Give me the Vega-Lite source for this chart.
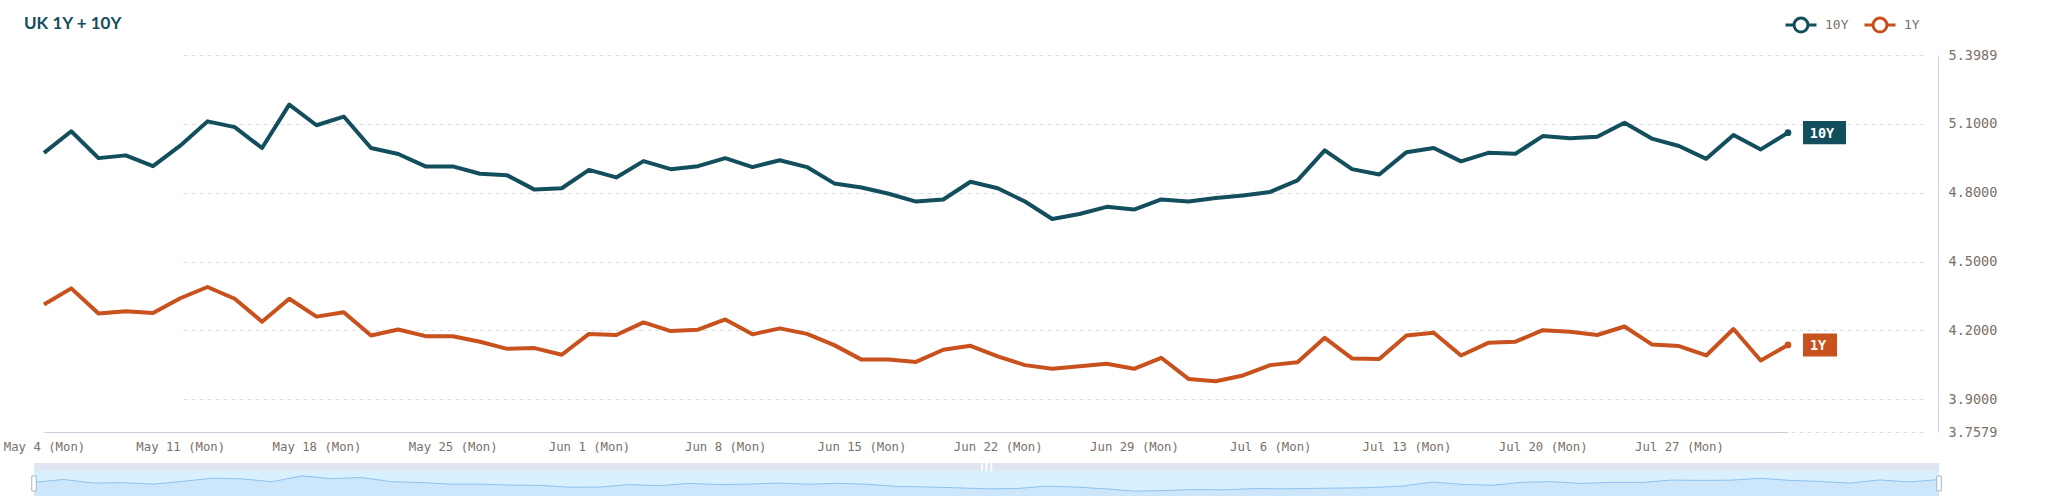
{
  "$schema": "https://vega.github.io/schema/vega-lite/v6.json",
  "autosize": "none",
  "width": 1909,
  "height": 377,
  "padding": {"left": 29, "top": 55, "right": 110, "bottom": 69},
  "background": "#ffffff",
  "title": {
    "text": "UK 1Y + 10Y",
    "anchor": "start",
    "frame": "group",
    "dx": -5,
    "dy": 47,
    "offset": 22,
    "font": "Lato",
    "fontSize": 17,
    "fontWeight": "bold",
    "color": "#124e5c"
  },
  "config": {
    "view": {"stroke": null},
    "font": "DejaVu Sans Mono"
  },
  "data": {
    "values": [
      {"day": "May 4 (Mon)", "10Y": 4.973, "1Y": 4.313},
      {"day": "May 5 (Tue)", "10Y": 5.067, "1Y": 4.383},
      {"day": "May 6 (Wed)", "10Y": 4.950, "1Y": 4.274},
      {"day": "May 7 (Thu)", "10Y": 4.962, "1Y": 4.283},
      {"day": "May 8 (Fri)", "10Y": 4.915, "1Y": 4.276},
      {"day": "May 11 (Mon)", "10Y": 5.004, "1Y": 4.340},
      {"day": "May 12 (Tue)", "10Y": 5.110, "1Y": 4.389},
      {"day": "May 13 (Wed)", "10Y": 5.085, "1Y": 4.338},
      {"day": "May 14 (Thu)", "10Y": 4.994, "1Y": 4.238},
      {"day": "May 15 (Fri)", "10Y": 5.183, "1Y": 4.338},
      {"day": "May 18 (Mon)", "10Y": 5.093, "1Y": 4.260},
      {"day": "May 19 (Tue)", "10Y": 5.131, "1Y": 4.279},
      {"day": "May 20 (Wed)", "10Y": 4.994, "1Y": 4.178},
      {"day": "May 21 (Thu)", "10Y": 4.968, "1Y": 4.204},
      {"day": "May 22 (Fri)", "10Y": 4.914, "1Y": 4.175},
      {"day": "May 25 (Mon)", "10Y": 4.914, "1Y": 4.175},
      {"day": "May 26 (Tue)", "10Y": 4.882, "1Y": 4.151},
      {"day": "May 27 (Wed)", "10Y": 4.875, "1Y": 4.120},
      {"day": "May 28 (Thu)", "10Y": 4.813, "1Y": 4.123},
      {"day": "May 29 (Fri)", "10Y": 4.819, "1Y": 4.094},
      {"day": "Jun 1 (Mon)", "10Y": 4.899, "1Y": 4.185},
      {"day": "Jun 2 (Tue)", "10Y": 4.866, "1Y": 4.180},
      {"day": "Jun 3 (Wed)", "10Y": 4.937, "1Y": 4.235},
      {"day": "Jun 4 (Thu)", "10Y": 4.902, "1Y": 4.197},
      {"day": "Jun 5 (Fri)", "10Y": 4.915, "1Y": 4.203},
      {"day": "Jun 8 (Mon)", "10Y": 4.950, "1Y": 4.248},
      {"day": "Jun 9 (Tue)", "10Y": 4.911, "1Y": 4.183},
      {"day": "Jun 10 (Wed)", "10Y": 4.941, "1Y": 4.209},
      {"day": "Jun 11 (Thu)", "10Y": 4.911, "1Y": 4.185},
      {"day": "Jun 12 (Fri)", "10Y": 4.840, "1Y": 4.136},
      {"day": "Jun 15 (Mon)", "10Y": 4.822, "1Y": 4.073},
      {"day": "Jun 16 (Tue)", "10Y": 4.795, "1Y": 4.073},
      {"day": "Jun 17 (Wed)", "10Y": 4.761, "1Y": 4.063},
      {"day": "Jun 18 (Thu)", "10Y": 4.770, "1Y": 4.116},
      {"day": "Jun 19 (Fri)", "10Y": 4.847, "1Y": 4.133},
      {"day": "Jun 22 (Mon)", "10Y": 4.819, "1Y": 4.087},
      {"day": "Jun 23 (Tue)", "10Y": 4.761, "1Y": 4.049},
      {"day": "Jun 24 (Wed)", "10Y": 4.685, "1Y": 4.033},
      {"day": "Jun 25 (Thu)", "10Y": 4.707, "1Y": 4.044},
      {"day": "Jun 26 (Fri)", "10Y": 4.738, "1Y": 4.055},
      {"day": "Jun 29 (Mon)", "10Y": 4.726, "1Y": 4.033},
      {"day": "Jun 30 (Tue)", "10Y": 4.770, "1Y": 4.081},
      {"day": "Jul 1 (Wed)", "10Y": 4.761, "1Y": 3.989},
      {"day": "Jul 2 (Thu)", "10Y": 4.776, "1Y": 3.979},
      {"day": "Jul 3 (Fri)", "10Y": 4.787, "1Y": 4.004},
      {"day": "Jul 6 (Mon)", "10Y": 4.803, "1Y": 4.049},
      {"day": "Jul 7 (Tue)", "10Y": 4.853, "1Y": 4.062},
      {"day": "Jul 8 (Wed)", "10Y": 4.984, "1Y": 4.168},
      {"day": "Jul 9 (Thu)", "10Y": 4.902, "1Y": 4.078},
      {"day": "Jul 10 (Fri)", "10Y": 4.879, "1Y": 4.076},
      {"day": "Jul 13 (Mon)", "10Y": 4.976, "1Y": 4.178},
      {"day": "Jul 14 (Tue)", "10Y": 4.994, "1Y": 4.190},
      {"day": "Jul 15 (Wed)", "10Y": 4.936, "1Y": 4.091},
      {"day": "Jul 16 (Thu)", "10Y": 4.973, "1Y": 4.146},
      {"day": "Jul 17 (Fri)", "10Y": 4.969, "1Y": 4.151},
      {"day": "Jul 20 (Mon)", "10Y": 5.046, "1Y": 4.201},
      {"day": "Jul 21 (Tue)", "10Y": 5.037, "1Y": 4.194},
      {"day": "Jul 22 (Wed)", "10Y": 5.043, "1Y": 4.180},
      {"day": "Jul 23 (Thu)", "10Y": 5.104, "1Y": 4.217},
      {"day": "Jul 24 (Fri)", "10Y": 5.035, "1Y": 4.139},
      {"day": "Jul 27 (Mon)", "10Y": 5.003, "1Y": 4.132},
      {"day": "Jul 28 (Tue)", "10Y": 4.947, "1Y": 4.091},
      {"day": "Jul 29 (Wed)", "10Y": 5.051, "1Y": 4.206},
      {"day": "Jul 30 (Thu)", "10Y": 4.988, "1Y": 4.069},
      {"day": "Jul 31 (Fri)", "10Y": 5.061, "1Y": 4.137}
    ]
  },
  "resolve": {"scale": {"x": "independent", "y": "independent"}},
  "layer": [
    {
      "transform": [{"fold": ["10Y", "1Y"], "as": ["series", "value"]}],
      "encoding": {
        "x": {
          "field": "day",
          "type": "ordinal",
          "sort": null,
          "scale": {"type": "point", "padding": 0, "range": [15, 1759]},
          "axis": {
            "title": null,
            "values": ["May 4 (Mon)", "May 11 (Mon)", "May 18 (Mon)", "May 25 (Mon)", "Jun 1 (Mon)", "Jun 8 (Mon)", "Jun 15 (Mon)", "Jun 22 (Mon)", "Jun 29 (Mon)", "Jul 6 (Mon)", "Jul 13 (Mon)", "Jul 20 (Mon)", "Jul 27 (Mon)"],
            "labelAngle": 0,
            "ticks": false,
            "grid": false,
            "domainColor": "#c9cfdb",
            "labelFont": "DejaVu Sans Mono",
            "labelFontSize": 12.3,
            "labelColor": "#7c7068",
            "labelPadding": 8,
            "labelOverlap": false
          }
        },
        "y": {
          "field": "value",
          "type": "quantitative",
          "scale": {"domain": [3.7579, 5.3989], "nice": false, "zero": false},
          "axis": {
            "title": null,
            "orient": "right",
            "values": [3.7579, 3.9, 4.2, 4.5, 4.8, 5.1, 5.3989],
            "format": ".4f",
            "ticks": false,
            "domainColor": "#cfd5e0",
            "grid": true,
            "gridDash": [4, 4],
            "gridColor": "#d6dbe7",
            "labelFont": "DejaVu Sans Mono",
            "labelFontSize": 13.5,
            "labelColor": "#7c7068",
            "labelPadding": 10,
            "labelFlush": false
          }
        }
      },
      "layer": [
        {
          "mark": {"type": "line", "strokeWidth": 4, "strokeJoin": "round"},
          "encoding": {
            "stroke": {
              "field": "series",
              "type": "nominal",
              "scale": {"domain": ["10Y", "1Y"], "range": ["#124e5c", "#c8511d"]},
              "legend": {
                "title": null,
                "orient": "none",
                "legendX": 1755,
                "legendY": -47,
                "direction": "horizontal",
                "symbolType": "M-1,0H-0.45M0.45,0H1M-0.45,0A0.45,0.45,0,1,0,0.45,0A0.45,0.45,0,1,0,-0.45,0",
                "symbolSize": 961,
                "symbolStrokeWidth": 3,
                "symbolFillColor": "#ffffff",
                "labelFont": "DejaVu Sans Mono",
                "labelFontSize": 13,
                "labelColor": "#7c7068",
                "labelOffset": 7,
                "columnPadding": 9
              }
            }
          }
        },
        {
          "transform": [{"filter": "datum.day == 'Jul 31 (Fri)' && datum.series == '10Y'"}],
          "layer": [
            {"mark": {"type": "point", "filled": true, "size": 45, "opacity": 1, "color": "#124e5c"}},
            {"mark": {"type": "point", "filled": true, "opacity": 1, "size": 14400, "color": "#124e5c", "shape": "M0.25,-0.192H0.967V0.192H0.25Z"}},
            {
              "mark": {"type": "text", "align": "center", "baseline": "middle", "dx": 34, "dy": 1, "font": "DejaVu Sans Mono", "fontWeight": "bold", "fontSize": 13.5, "color": "#ffffff"},
              "encoding": {"text": {"field": "series"}}
            }
          ]
        },
        {
          "transform": [{"filter": "datum.day == 'Jul 31 (Fri)' && datum.series == '1Y'"}],
          "layer": [
            {"mark": {"type": "point", "filled": true, "size": 45, "opacity": 1, "color": "#c8511d"}},
            {"mark": {"type": "point", "filled": true, "opacity": 1, "size": 14400, "color": "#c8511d", "shape": "M0.25,-0.192H0.817V0.192H0.25Z"}},
            {
              "mark": {"type": "text", "align": "center", "baseline": "middle", "dx": 30, "dy": 1, "font": "DejaVu Sans Mono", "fontWeight": "bold", "fontSize": 13.5, "color": "#ffffff"},
              "encoding": {"text": {"field": "series"}}
            }
          ]
        }
      ]
    },
    {
      "encoding": {
        "x": {
          "field": "day",
          "type": "ordinal",
          "sort": null,
          "scale": {"type": "point", "padding": 0, "range": [5, 1910]},
          "axis": null
        }
      },
      "layer": [
        {
          "mark": {"type": "area", "color": "#dfe5f1"},
          "encoding": {
            "y": {"datum": 5.604, "type": "quantitative", "scale": {"domain": [4.527, 5.343], "range": [441, 416], "nice": false, "zero": false}, "axis": null},
            "y2": {"datum": 5.343}
          }
        },
        {
          "mark": {"type": "area", "color": "#d9f0ff"},
          "encoding": {
            "y": {"datum": 5.343, "type": "quantitative", "axis": null},
            "y2": {"datum": 4.527}
          }
        },
        {
          "mark": {"type": "area", "color": "#c6e2f9", "line": {"color": "#8ec2ee", "strokeWidth": 1}},
          "encoding": {
            "y": {"field": "10Y", "type": "quantitative", "axis": null},
            "y2": {"datum": 4.527}
          }
        },
        {
          "mark": {"type": "text", "text": "|||", "color": "#ffffff", "fontSize": 8, "baseline": "middle"},
          "encoding": {
            "x": {"datum": "Jun 17 (Wed)"},
            "y": {"datum": 5.47, "type": "quantitative", "axis": null}
          }
        },
        {
          "transform": [{"filter": "datum.day == 'May 4 (Mon)' || datum.day == 'Jul 31 (Fri)'"}],
          "mark": {"type": "point", "shape": "M-0.3,-1H0.3V1H-0.3Z", "size": 225, "filled": true, "fill": "#ffffff", "stroke": "#a9b4c5", "strokeWidth": 1, "opacity": 1},
          "encoding": {
            "y": {"datum": 4.935, "type": "quantitative", "axis": null}
          }
        }
      ]
    }
  ]
}
